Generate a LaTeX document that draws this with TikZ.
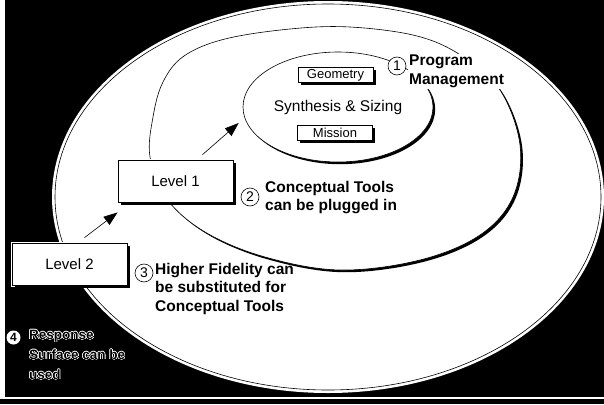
\documentclass[tikz,border=0pt]{standalone}
\usepackage{fontspec}
\setmainfont{Liberation Sans}
\usepackage{contour}
\contourlength{0.5pt}
\contournumber{24}
\usetikzlibrary{shadows,arrows.meta,calc,shapes.geometric}
\begin{document}
\begin{tikzpicture}[x=1pt,y=-1pt,
  levelbox/.style={draw=black, line width=0.8pt, fill=white,
    preaction={draw=white,line width=3pt},
    drop shadow={shadow xshift=3pt,shadow yshift=-3pt,fill=black,opacity=1},
    inner sep=0pt, minimum width=115pt, minimum height=42pt,
    font=\fontsize{15}{17}\selectfont},
  smallbox/.style={draw=black, line width=0.7pt, fill=white,
    drop shadow={shadow xshift=2.5pt,shadow yshift=-2.5pt,fill=black,opacity=1},
    inner sep=0pt, minimum width=75pt, minimum height=15pt,
    font=\fontsize{13}{15}\selectfont},
  lbl/.style={align=left, inner sep=1pt, font=\bfseries\fontsize{15.5}{18.5}\selectfont},
  num/.style={circle, draw=black, line width=0.6pt, fill=white, inner sep=0pt,
    minimum size=18pt, font=\fontsize{14}{14}\selectfont},
  arr/.style={-{Triangle[length=14pt,width=10pt]}, line width=0.6pt},
  ring/.style={fill=white, draw=black, line width=0.6pt,
    drop shadow={shadow xshift=2.2pt,shadow yshift=-2.2pt,fill=black,opacity=1}}
]
\useasboundingbox (0,0) rectangle (604,404);
% background
\fill[black] (0,0) rectangle (604,404);
\fill[white] (0,0) rectangle (5,398.5);
\fill[white] (0,396.5) rectangle (604,398.5);
% outer ellipse
\fill[white] (328,197) ellipse [x radius=276pt, y radius=196pt];
\draw[line width=0.6pt] (328,197) ellipse [x radius=273pt, y radius=193pt];
% middle ring
\path[ring] plot[smooth cycle, tension=0.6] coordinates {
  (150,157) (153,117) (163,82) (184,56) (225,39) (290,29) (350,27) (417,36)
  (462,56) (500,90) (520,145) (513,197) (480,235) (420,260) (340,270)
  (265,257) (205,232) (166,198)};
% inner ellipse
\node[ring, ellipse, inner sep=0pt, minimum width=190pt, minimum height=110pt,
  font=\fontsize{15.5}{17}\selectfont] (core) at (338,107) {Synthesis \& Sizing};
\node[smallbox] (geo) at (335.5,75) {Geometry};
\node[smallbox] (mis) at (335,132.5) {Mission};
% level boxes
\node[levelbox] (l1) at (175.5,181) {Level 1};
\node[levelbox] (l2) at (69.5,264) {Level 2};
% arrows
\draw[arr] ($(l2.north)+(15,-5)$) -- ($(l1.south west)+(0,10)$);
\draw[arr] ($(l1.north)+(27,-5)$) -- ($(core.west)+(-4,16)$);
% labels
\node[lbl, fill=white, anchor=north west] (pm) at (408,54) {Program\\Management};
\node[num] (n1) at (397,66) {1};
\node[lbl, anchor=north west] (ct) at (264,180) {Conceptual Tools\\can be plugged in};
\node[num] (n2) at (250,197) {2};
\node[lbl, anchor=north west] (hf) at (154,262) {Higher Fidelity can\\be substituted for\\Conceptual Tools};
\node[num] (n3) at (144,273) {3};
\node[circle, fill=white, inner sep=0pt, minimum size=14pt,
  font=\bfseries\fontsize{12}{12}\selectfont] (n4) at (13.5,337.5) {4};
\node[align=left, inner sep=0pt, anchor=north west, text=black,
  font=\bfseries\fontsize{13.5}{20}\selectfont] (rs) at (29,330)
  {\contour{white}{Response}\\\contour{white}{Surface can be}\\\contour{white}{used}};
\end{tikzpicture}
\end{document}
